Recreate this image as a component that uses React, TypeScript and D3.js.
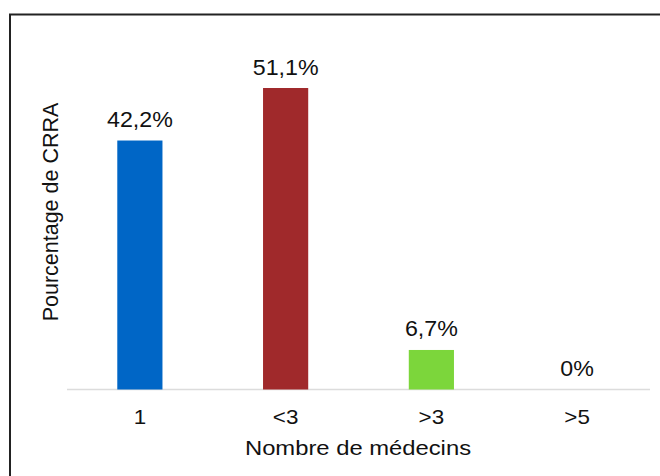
import React from "react";
import * as d3 from "d3";

const categories = ["1", "<3", ">3", ">5"];
const values = [42.2, 51.1, 6.7, 0];
const valueLabels = ["42,2%", "51,1%", "6,7%", "0%"];
const colors = ["#0066C6", "#A0292B", "#7CD63B", "#7CD63B"];
const xTitle = "Nombre de médecins";
const yTitle = "Pourcentage de CRRA";

export default function App() {
  const W = 660, H = 476;
  const x = d3.scaleBand<string>().domain(categories).range([67, 650]).paddingInner(0.69).paddingOuter(0.345);
  const y = d3.scaleLinear().domain([0, 60]).range([389.5, 35.5]);
  const font = "Liberation Sans, Arial, Helvetica, sans-serif";
  return (
    <svg width={W} height={H} style={{ position: "absolute", left: 0, top: 0 }} fontFamily={font}>
      <rect x={0} y={0} width={W} height={H} fill="#fff" />
      <line x1={9} x2={660} y1={14.5} y2={14.5} stroke="#222" strokeWidth={2} />
      <line x1={10} x2={10} y1={14} y2={476} stroke="#222" strokeWidth={2} />
      <line x1={67} x2={650} y1={y(0)} y2={y(0)} stroke="#dcdcdc" strokeWidth={1.5} />
      {categories.map((c, i) => (
        <g key={c}>
          {values[i] > 0 && (
            <rect x={x(c)} y={y(values[i])} width={x.bandwidth()} height={y(0) - y(values[i])} fill={colors[i]} />
          )}
          <text
            transform={`translate(${(x(c) as number) + x.bandwidth() / 2},${y(values[i]) - 13.5}) scale(1.08,1)`}
            textAnchor="middle" fontSize={21.5} fill="#111"
          >
            {valueLabels[i]}
          </text>
          <text
            transform={`translate(${(x(c) as number) + x.bandwidth() / 2},${424}) scale(1.12,1)`}
            textAnchor="middle" fontSize={20} fill="#111"
          >
            {c}
          </text>
        </g>
      ))}
      <text transform={`translate(358,455) scale(1.19,1)`} textAnchor="middle" fontSize={20} fill="#111">
        {xTitle}
      </text>
      <text transform={`translate(58,212) rotate(-90)`} textAnchor="middle" fontSize={21.5} fill="#111">
        {yTitle}
      </text>
    </svg>
  );
}
